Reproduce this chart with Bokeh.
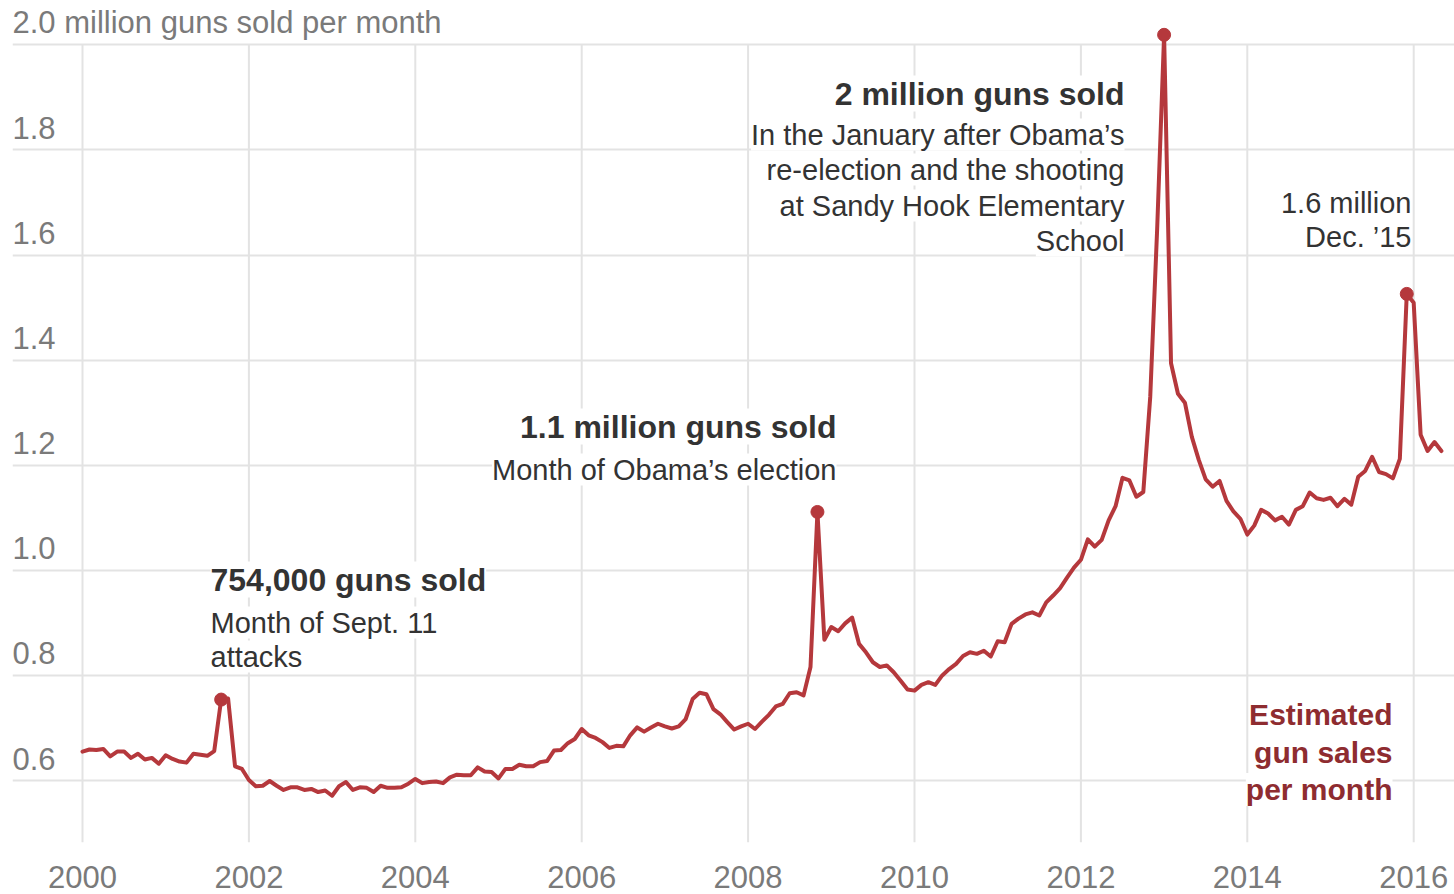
from bokeh.plotting import figure
from bokeh.models import Range1d, Label
from bokeh.core.properties import value
from bokeh.embed import file_html
from bokeh.resources import INLINE

# ---------------- data: estimated gun sales per month (millions), Jan..Dec
sales_2000 = [0.655, 0.659, 0.658, 0.660, 0.646, 0.655, 0.655, 0.643, 0.651, 0.640, 0.643, 0.632]
sales_2001 = [0.648, 0.641, 0.636, 0.634, 0.651, 0.649, 0.647, 0.656, 0.754, 0.756, 0.627, 0.622]
sales_2002 = [0.601, 0.589, 0.590, 0.599, 0.590, 0.582, 0.587, 0.587, 0.582, 0.584, 0.578, 0.581]
sales_2003 = [0.571, 0.589, 0.597, 0.582, 0.587, 0.586, 0.578, 0.590, 0.586, 0.586, 0.587, 0.594]
sales_2004 = [0.603, 0.595, 0.597, 0.598, 0.595, 0.606, 0.611, 0.610, 0.610, 0.625, 0.617, 0.616]
sales_2005 = [0.604, 0.622, 0.622, 0.630, 0.627, 0.627, 0.635, 0.637, 0.657, 0.658, 0.671, 0.679]
sales_2006 = [0.698, 0.686, 0.681, 0.673, 0.662, 0.666, 0.665, 0.686, 0.701, 0.693, 0.701, 0.708]
sales_2007 = [0.703, 0.699, 0.703, 0.717, 0.755, 0.767, 0.764, 0.736, 0.726, 0.711, 0.697, 0.703]
sales_2008 = [0.708, 0.698, 0.712, 0.725, 0.741, 0.746, 0.766, 0.768, 0.762, 0.816, 1.111, 0.868]
sales_2009 = [0.892, 0.884, 0.899, 0.910, 0.860, 0.844, 0.825, 0.816, 0.819, 0.806, 0.790, 0.773]
sales_2010 = [0.771, 0.782, 0.787, 0.782, 0.800, 0.812, 0.822, 0.837, 0.844, 0.841, 0.847, 0.836]
sales_2011 = [0.865, 0.863, 0.898, 0.908, 0.916, 0.920, 0.914, 0.939, 0.952, 0.966, 0.986, 1.005]
sales_2012 = [1.020, 1.059, 1.045, 1.058, 1.095, 1.122, 1.176, 1.171, 1.140, 1.149, 1.330, 1.650]
sales_2013 = [2.019, 1.394, 1.336, 1.319, 1.254, 1.210, 1.173, 1.159, 1.170, 1.132, 1.112, 1.098]
sales_2014 = [1.068, 1.085, 1.115, 1.108, 1.095, 1.102, 1.087, 1.115, 1.122, 1.148, 1.137, 1.134]
sales_2015 = [1.138, 1.122, 1.136, 1.125, 1.178, 1.189, 1.216, 1.187, 1.183, 1.175, 1.212, 1.526]
sales_2016 = [1.509, 1.258, 1.227, 1.244, 1.227]

first_year = 2000
yearly_sales = [sales_2000, sales_2001, sales_2002, sales_2003, sales_2004, sales_2005,
                sales_2006, sales_2007, sales_2008, sales_2009, sales_2010, sales_2011,
                sales_2012, sales_2013, sales_2014, sales_2015, sales_2016]

# highlighted months (year, month)
highlight_months = [(2001, 9), (2008, 11), (2013, 1), (2015, 12)]

y_ticks = [0.6, 0.8, 1.0, 1.2, 1.4, 1.6, 1.8, 2.0]
y_tick_labels = ["0.6", "0.8", "1.0", "1.2", "1.4", "1.6", "1.8", "2.0 million guns sold per month"]
x_ticks = [2000, 2002, 2004, 2006, 2008, 2010, 2012, 2014, 2016]

# ---------------- build series
dates, sales = [], []
for i, ys in enumerate(yearly_sales):
    for j, v in enumerate(ys):
        dates.append(first_year + i + j / 12.0)
        sales.append(v)
hl_x, hl_y = [], []
for (yr, mo) in highlight_months:
    k = (yr - first_year) * 12 + (mo - 1)
    hl_x.append(dates[k])
    hl_y.append(sales[k])

# ---------------- geometry (canvas pixel coordinates)
W, H = 1454, 894
PAD_L, PAD_R, PAD_T, PAD_B = 12, 0, 0, 52
PX_YEAR = 83.2
PX_UNIT = 525.5
PX_X_2000 = 82.0
PX_Y_06 = 780.0
TEXT_SHIFT = 11  # px, lift for text anchors
frame_w = W - PAD_L - PAD_R
frame_h = H - PAD_T - PAD_B
x_start = 2000 - (PX_X_2000 - PAD_L) / PX_YEAR
x_end = x_start + frame_w / PX_YEAR
y_end = 0.6 + (PX_Y_06 - PAD_T) / PX_UNIT
y_start = y_end - frame_h / PX_UNIT


def dx(px):
    return 2000 + (px - PX_X_2000) / PX_YEAR


def dy(py):
    return 0.6 + (PX_Y_06 - py) / PX_UNIT


RED = "#b5383c"
DARK_RED = "#8e2c30"
GRID = "#e3e3e3"
AXIS_GRAY = "#7a7a7a"
TEXT = "#333333"
FONT = "Liberation Sans"

p = figure(width=W, height=H, x_range=Range1d(x_start, x_end), y_range=Range1d(y_start, y_end),
           output_backend="svg", toolbar_location=None, y_axis_location=None,
           min_border_left=PAD_L, min_border_right=PAD_R, min_border_top=PAD_T,
           min_border_bottom=PAD_B)
p.outline_line_color = None
p.background_fill_color = "white"
p.border_fill_color = "white"

# horizontal grid lines
p.xgrid.visible = False
p.ygrid.ticker = y_ticks
p.ygrid.grid_line_color = GRID
p.ygrid.grid_line_width = 2

# vertical grid lines stop at the top gridline
p.segment(x0=x_ticks, y0=[y_start] * len(x_ticks), x1=x_ticks, y1=[max(y_ticks)] * len(x_ticks),
          line_color=GRID, line_width=2)

# x axis
ax = p.xaxis[0]
ax.ticker = x_ticks
ax.axis_line_color = None
ax.major_tick_line_color = None
ax.minor_tick_line_color = None
ax.major_label_standoff = 17
ax.major_label_text_font = FONT
ax.major_label_text_font_size = "31px"
ax.major_label_text_color = AXIS_GRAY

# y tick labels, sitting above their gridlines
p.text(x=[x_start] * len(y_ticks), y=[t + (11 + TEXT_SHIFT) / PX_UNIT for t in y_ticks],
       text=y_tick_labels, text_font=value(FONT), text_font_size="31px", text_color=AXIS_GRAY,
       text_align="left", text_baseline="alphabetic")

# the series
p.line(dates, sales, line_color=RED, line_width=4, line_join="round", line_cap="round")
p.scatter(hl_x, hl_y, size=13, fill_color=RED, line_color=RED)


def add_label(text, px, py, align, size, bold=False, color=TEXT):
    p.add_layout(Label(x=dx(px), y=dy(py - TEXT_SHIFT), text=text, text_align=align,
                       text_baseline="alphabetic", text_font=FONT, text_font_size=size,
                       text_font_style="bold" if bold else "normal", text_color=color,
                       background_fill_color="white", border_line_color=None))


# annotations
add_label("754,000 guns sold", 210, 590, "left", "32px", bold=True)
add_label("Month of Sept. 11", 210, 633, "left", "29px")
add_label("attacks", 210, 667, "left", "29px")

add_label("1.1 million guns sold", 836, 437, "right", "32px", bold=True)
add_label("Month of Obama\u2019s election", 836, 480, "right", "29px")

add_label("2 million guns sold", 1124, 104, "right", "32px", bold=True)
add_label("In the January after Obama\u2019s", 1124, 145, "right", "29px")
add_label("re-election and the shooting", 1124, 180, "right", "29px")
add_label("at Sandy Hook Elementary", 1124, 216, "right", "29px")
add_label("School", 1124, 251, "right", "29px")

add_label("1.6 million", 1411, 213, "right", "29px")
add_label("Dec. \u201915", 1411, 247, "right", "29px")

add_label("Estimated", 1392, 725, "right", "30px", bold=True, color=DARK_RED)
add_label("gun sales", 1392, 763, "right", "30px", bold=True, color=DARK_RED)
add_label("per month", 1392, 800, "right", "30px", bold=True, color=DARK_RED)

with open("out.html", "w") as f:
    f.write(file_html(p, INLINE))
